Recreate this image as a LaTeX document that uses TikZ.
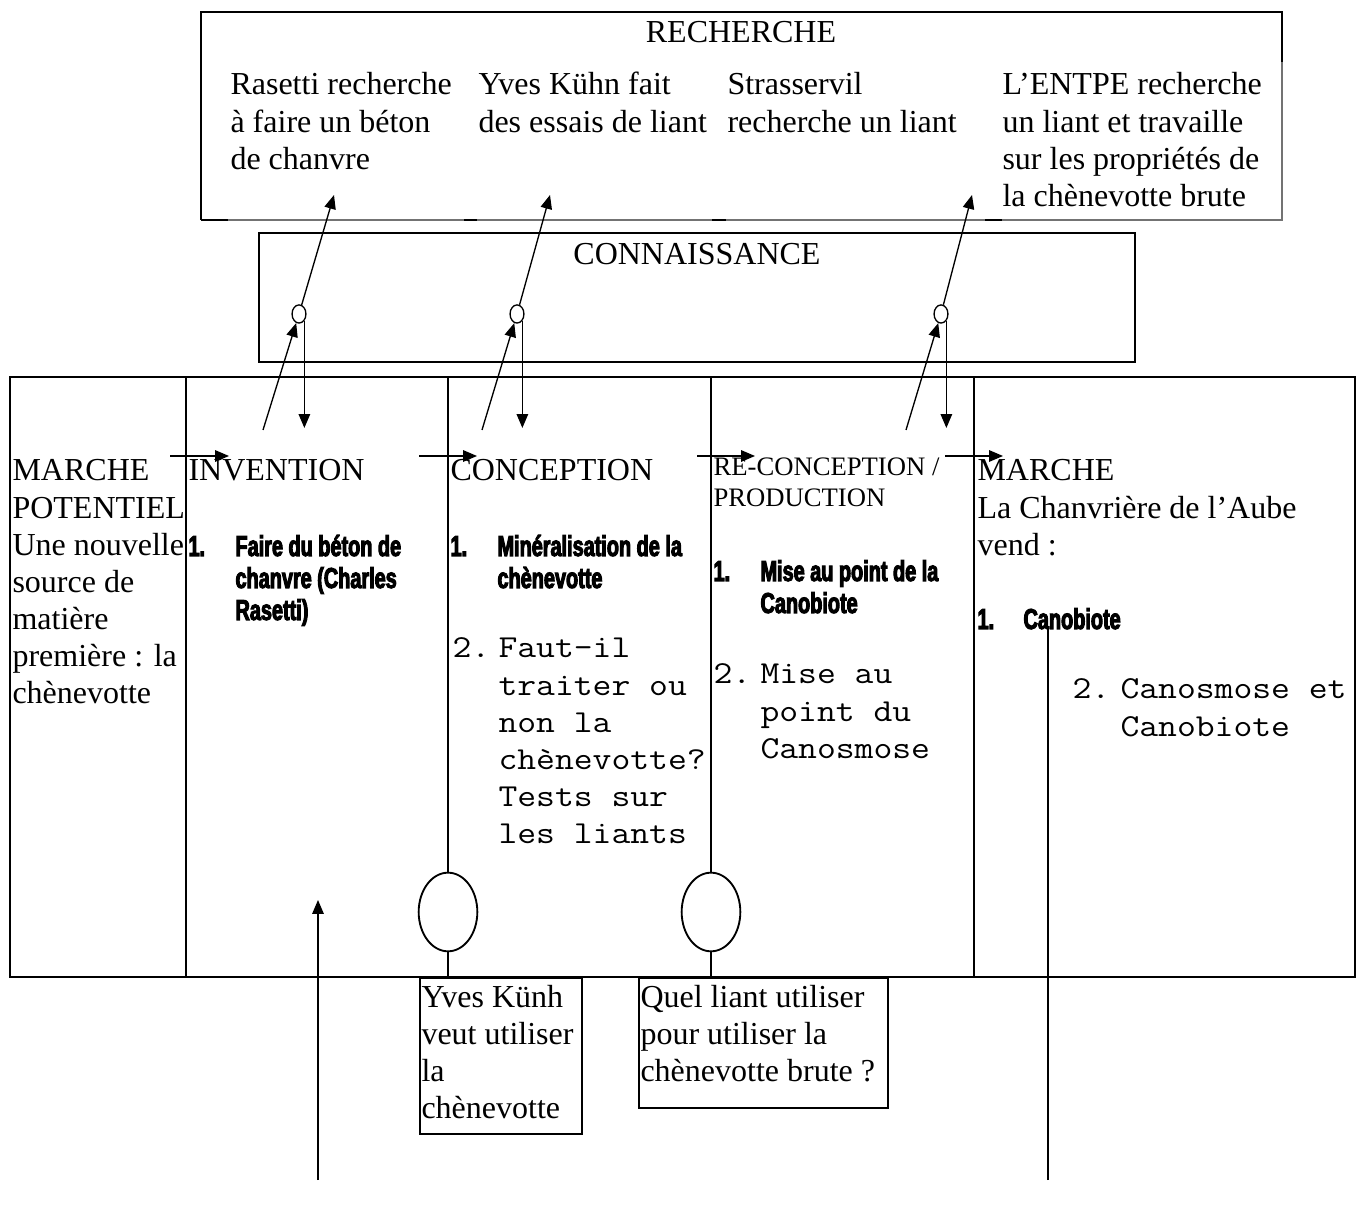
\documentclass[tikz,border=0pt]{standalone}
\usepackage{fontspec}
\setmainfont{Liberation Serif}
\newfontfamily\impact[FakeStretch=0.69,FakeBold=3.5]{Liberation Sans Bold}
\newfontfamily\cour[FakeStretch=1.143]{Latin Modern Mono}
\usetikzlibrary{arrows.meta,shapes.geometric}
\newcommand\blk[2]{\vtop{\baselineskip=#1\relax\lineskiplimit=-30pt\lineskip=0pt\halign{##\hfil\cr#2\crcr}}}
\tikzset{
  txt/.style={anchor=base west, inner sep=0pt, font=\fontsize{12pt}{13.9pt}\selectfont},
  sml/.style={anchor=base west, inner sep=0pt, font=\fontsize{10pt}{11.5pt}\selectfont},
  bld/.style={anchor=base west, inner sep=0pt, font=\impact\fontsize{10.8pt}{12pt}\selectfont},
  mono/.style={anchor=base west, inner sep=0pt, font=\cour\fontsize{12pt}{13.9pt}\selectfont},
  arr/.style={-{Triangle[length=5.2pt,width=4.3pt]}, line width=0.5pt},
  ln/.style={line width=0.5pt},
  frame/.style={line width=0.7pt},
  thin/.style={line width=0.4pt, black!55},
  dot/.style={ellipse, draw, line width=0.5pt, inner sep=0pt, minimum width=5.2pt, minimum height=6.8pt},
  bigdot/.style={ellipse, draw, line width=0.7pt, inner sep=0pt, minimum width=22pt, minimum height=29.5pt},
  qbox/.style={draw, line width=0.6pt, inner sep=0pt, anchor=north west},
}
\begin{document}
\begin{tikzpicture}[x=0.375pt,y=-0.375pt]
\useasboundingbox (0,0) rectangle (1364,1207);

% ---------- RECHERCHE box ----------
\draw[thin] (201,220) -- (1282,220) -- (1282,62);
\draw[frame] (201,220) -- (201,12) -- (1282,12) -- (1282,62);
\foreach \a/\b in {201/228,464/477,712/726,985/1002}
  \draw[frame] (\a,220) -- (\b,220);
\node[txt, anchor=base] (rech) at (741,43) {RECHERCHE};
\node[txt] (r1) at (230,95) {\blk{13.9pt}{Rasetti recherche\cr à faire un béton\cr de chanvre}};
\node[txt] (r2) at (478,95) {\blk{13.9pt}{Yves Kühn fait\cr des essais de liant}};
\node[txt] (r3) at (727,95) {\blk{13.9pt}{Strasservil\cr recherche un liant}};
\node[txt] (r4) at (1002,95) {\blk{13.9pt}{L’ENTPE recherche\cr un liant et travaille\cr sur les propriétés de\cr la chènevotte brute}};

% ---------- CONNAISSANCE box ----------
\draw[frame] (259,233) rectangle (1135,362);
\node[txt, anchor=base] (conn) at (697,265) {CONNAISSANCE};
\node[dot] (c1) at (299,314) {};
\node[dot] (c2) at (517,314) {};
\node[dot] (c3) at (941,314) {};

% ---------- main table ----------
\draw[frame] (10,377) rectangle (1355,977);
\draw[frame] (186,377) -- (186,977);
\draw[frame] (974,377) -- (974,977);
\node[bigdot] (k1) at (448,912) {};
\node[bigdot] (k2) at (711,912) {};
\draw[frame] (448,377) -- (k1.north);
\draw[frame] (k1.south) -- (448,977);
\draw[frame] (711,377) -- (k2.north);
\draw[frame] (k2.south) -- (711,977);

% boxes under the table
\node[qbox, minimum width=60.75pt, minimum height=58.5pt] (q1) at (419,977) {};
\node[qbox, minimum width=93.4pt, minimum height=48.75pt] (q2) at (638,977) {};
\node[txt] (q1t) at (421,1007) {\blk{13.9pt}{Yves Künh\cr veut utiliser\cr la\cr chènevotte}};
\node[txt] (q2t) at (640,1007) {\blk{13.9pt}{Quel liant utiliser\cr pour utiliser la\cr chènevotte brute ?}};

% column 1
\node[txt] (m0) at (12,481) {\blk{13.9pt}{MARCHE\cr POTENTIEL\cr Une nouvelle\cr source de\cr matière\cr première : la\cr chènevotte}};
% column 2
\node[txt] (inv) at (188,481) {INVENTION};
\node[bld] (i1n) at (188,556) {1.};
\node[bld] (i1) at (235,556) {\blk{12pt}{Faire du béton de\cr chanvre (Charles\cr Rasetti)}};
% column 3
\node[txt] (con) at (450,481) {CONCEPTION};
\node[bld] (c1n) at (450,556) {1.};
\node[bld] (c1t) at (497,556) {\blk{12pt}{Minéralisation de la\cr chènevotte}};
\node[mono] (c2n) at (452,658) {2.};
\node[mono] (c2t) at (498,658) {\blk{13.9pt}{Faut-il\cr traiter ou\cr non la\cr chènevotte?\cr Tests sur\cr les liants}};
% column 4
\node[sml] (rec) at (713,476) {\blk{11.5pt}{RE-CONCEPTION /\cr PRODUCTION}};
\node[bld] (p1n) at (713,581) {1.};
\node[bld] (p1t) at (760,581) {\blk{12pt}{Mise au point de la\cr Canobiote}};
\node[mono] (p2n) at (713,684) {2.};
\node[mono] (p2t) at (760,684) {\blk{13.9pt}{Mise au\cr point du\cr Canosmose}};
% column 5
\node[txt] (mk) at (977,481) {\blk{13.9pt}{MARCHE\cr La Chanvrière de l’Aube\cr vend :}};
\node[bld] (v1n) at (977,629) {1.};
\node[bld] (v1t) at (1023,629) {Canobiote};
\node[mono] (v2n) at (1072,699) {2.};
\node[mono] (v2t) at (1120,699) {\blk{13.9pt}{Canosmose et\cr Canobiote}};

% ---------- connectors ----------
\coordinate (t1) at (334,195);
\coordinate (t2) at (550,195);
\coordinate (t3) at (972,195);
\coordinate (u1) at (263,430);
\coordinate (u2) at (482,430);
\coordinate (u3) at (906,430);
\coordinate (d1) at (305,428);
\coordinate (d2) at (523,428);
\coordinate (d3) at (948,428);
\draw[arr] (c1) -- (t1);
\draw[arr] (c2) -- (t2);
\draw[arr] (c3) -- (t3);
\draw[arr] (u1) -- (c1);
\draw[arr] (u2) -- (c2);
\draw[arr] (u3) -- (c3);
\draw[arr] (c1.south east) -- (c1.south east |- d1);
\draw[arr] (c2.south east) -- (c2.south east |- d2);
\draw[arr] (c3.south east) -- (c3.south east |- d3);

\coordinate (h1s) at (170,456); \coordinate (h1e) at (229,456);
\coordinate (h2s) at (419,456); \coordinate (h2e) at (477,456);
\coordinate (h3s) at (697,456); \coordinate (h3e) at (755,456);
\coordinate (h4s) at (945,456); \coordinate (h4e) at (1003,456);
\draw[arr] (h1s) -- (h1e);
\draw[arr] (h2s) -- (h2e);
\draw[arr] (h3s) -- (h3e);
\draw[arr] (h4s) -- (h4e);

\coordinate (b1) at (318,1180); \coordinate (b1t) at (318,900);
\coordinate (b2) at (1048,1180); \coordinate (b2t) at (1048,627);
\draw[arr] (b1) -- (b1t);
\draw[ln] (b2) -- (b2t);
\end{tikzpicture}
\end{document}
